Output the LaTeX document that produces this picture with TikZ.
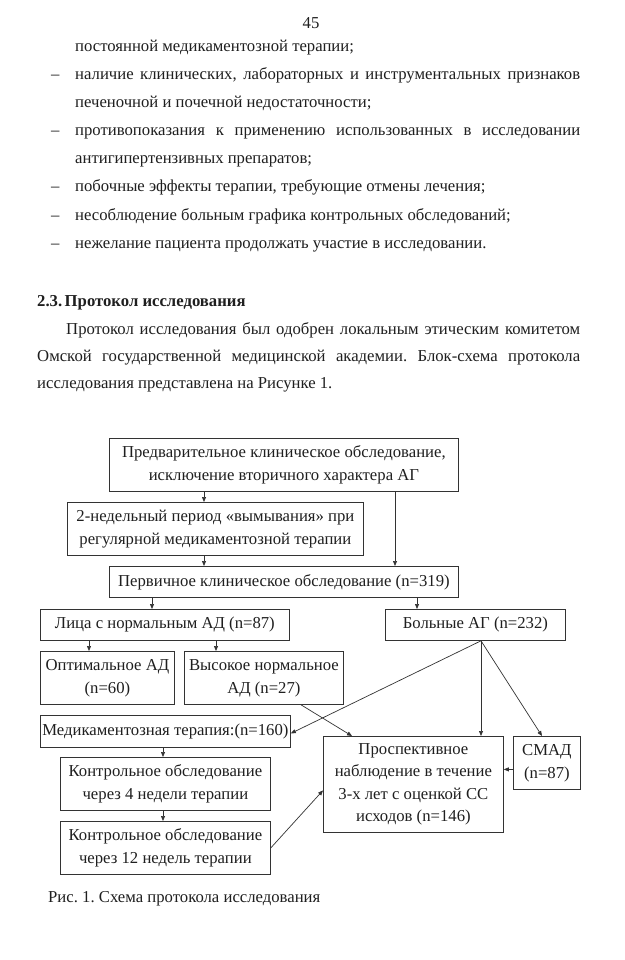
\documentclass[tikz,border=0pt]{standalone}
\usepackage{fontspec}
\setmainfont{Liberation Serif}
\usetikzlibrary{arrows.meta}
\frenchspacing
\begin{document}
\begin{tikzpicture}[x=1pt,y=-1pt,
  every node/.style={font=\fontsize{16.7}{23}\selectfont, text=black!88},
  pg/.style={anchor=base west, inner sep=0pt},
  box/.style={draw=black!80, line width=0.8pt, inner sep=0pt, align=center, anchor=north west},
  arr/.style={draw=black!80, line width=0.7pt, -{Triangle[length=5pt,width=4pt]}}]
\fill[white] (0,0) rectangle (624,960);
\useasboundingbox (0,0) rectangle (624,960);

% page text
\node[anchor=base, inner sep=0pt] (pnum) at (311,29) {45};
\node[pg] (l0) at (75,52) {постоянной медикаментозной терапии;};
\node[pg] (d1) at (51,80) {–};
\node[pg] (l1) at (75,80) {\makebox[505pt][s]{наличие клинических, лабораторных и инструментальных признаков}};
\node[pg] (l2) at (75,108) {печеночной и почечной недостаточности;};
\node[pg] (d3) at (51,136) {–};
\node[pg] (l3) at (75,136) {\makebox[505pt][s]{противопоказания к применению использованных в исследовании}};
\node[pg] (l4) at (75,164) {антигипертензивных препаратов;};
\node[pg] (d5) at (51,192) {–};
\node[pg] (l5) at (75,192) {побочные эффекты терапии, требующие отмены лечения;};
\node[pg] (d6) at (51,220) {–};
\node[pg] (l6) at (75,220) {несоблюдение больным графика контрольных обследований;};
\node[pg] (d7) at (51,248) {–};
\node[pg] (l7) at (75,248) {нежелание пациента продолжать участие в исследовании.};
\node[pg] (h1) at (37,306) {\bfseries 2.3.\kern2.5pt Протокол исследования};
\node[pg] (p1) at (66,334) {\makebox[514pt][s]{Протокол исследования был одобрен локальным этическим комитетом}};
\node[pg] (p2) at (37,361) {\makebox[543pt][s]{Омской государственной медицинской академии. Блок-схема протокола}};
\node[pg] (p3) at (37,388) {исследования представлена на Рисунке 1.};

% boxes
\node[box, minimum width=349pt, minimum height=53pt] (pre) at (109,438) {Предварительное клиническое обследование,\\исключение вторичного характера АГ};
\node[box, minimum width=296pt, minimum height=53pt] (wash) at (67,502) {2-недельный период «вымывания» при\\регулярной медикаментозной терапии};
\node[box, minimum width=349pt, minimum height=31pt] (prim) at (109,566) {Первичное клиническое обследование (n=319)};
\node[box, minimum width=249pt, minimum height=31pt] (norm) at (40,609) {Лица с нормальным АД (n=87)};
\node[box, minimum width=180pt, minimum height=31pt] (ag) at (385,609) {Больные АГ (n=232)};
\node[box, minimum width=134pt, minimum height=53pt] (opt) at (40,651) {Оптимальное АД\\(n=60)};
\node[box, minimum width=159pt, minimum height=53pt] (high) at (184,651) {Высокое нормальное\\АД (n=27)};
\node[box, minimum width=250pt, minimum height=32pt] (med) at (40,715) {Медикаментозная терапия:(n=160)};
\node[box, minimum width=210pt, minimum height=53pt] (c4) at (60,757) {Контрольное обследование\\через 4 недели терапии};
\node[box, minimum width=210pt, minimum height=53pt] (c12) at (60,821) {Контрольное обследование\\через 12 недель терапии};
\node[box, minimum width=180pt, minimum height=96pt, font=\fontsize{16.7}{22.5}\selectfont] (prosp) at (323,736) {Проспективное\\наблюдение в течение\\3-х лет с оценкой СС\\исходов (n=146)};
\node[box, minimum width=67pt, minimum height=53pt] (smad) at (513,736) {СМАД\\(n=87)};

\node[pg] (cap) at (48,902) {Рис. 1. Схема протокола исследования};

% connectors
\draw[arr] ([xshift=95pt]pre.south west) coordinate (a1) -- (a1 |- wash.north);
\draw[arr] ([xshift=137pt]wash.south west) coordinate (a2) -- (a2 |- prim.north);
\draw[arr] ([xshift=286pt]pre.south west) coordinate (a3) -- (a3 |- prim.north);
\draw[arr] ([xshift=43pt]prim.south west) coordinate (a4) -- (a4 |- norm.north);
\draw[arr] ([xshift=308pt]prim.south west) coordinate (a5) -- (a5 |- ag.north);
\draw[arr] ([xshift=49pt]norm.south west) coordinate (a6) -- (a6 |- opt.north);
\draw[arr] ([xshift=176pt]norm.south west) coordinate (a7) -- (a7 |- high.north);
\draw[arr] ([xshift=96pt]ag.south west) coordinate (a8) -- (a8 |- prosp.north);
\draw[arr] (a8) -- ([yshift=-2pt]med.east);
\draw[arr] (a8) -- ([xshift=29pt]smad.north west);
\draw[arr] ([xshift=117pt]high.south west) -- ([xshift=29pt]prosp.north west);
\draw[arr] ([xshift=123pt]med.south west) coordinate (a9) -- (a9 |- c4.north);
\draw[arr] ([xshift=103pt]c4.south west) coordinate (a10) -- (a10 |- c12.north);
\draw[arr] (c12.east) -- ([yshift=-6pt]prosp.west);
\draw[arr] ([yshift=-6.5pt]smad.west) coordinate (a11) -- (a11 -| prosp.east);
\end{tikzpicture}
\end{document}
